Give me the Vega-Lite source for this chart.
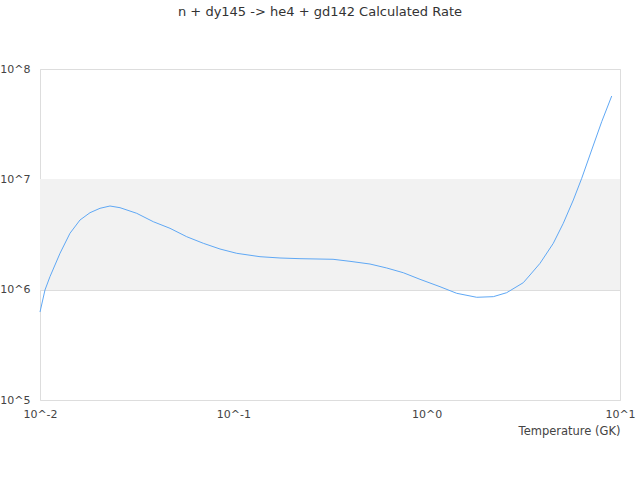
{
  "$schema": "https://vega.github.io/schema/vega-lite/v6.json",
  "width": 580,
  "height": 331,
  "autosize": {"type": "none"},
  "padding": {"left": 40, "top": 69, "right": 20, "bottom": 80},
  "background": "white",
  "config": {
    "font": "DejaVu Sans",
    "view": {"stroke": "#dddddd", "strokeWidth": 1}
  },
  "title": {
    "text": "n + dy145 -> he4 + gd142 Calculated Rate",
    "fontSize": 13,
    "fontWeight": "normal",
    "color": "#333333",
    "font": "DejaVu Sans",
    "anchor": "middle",
    "dx": -10,
    "offset": 44
  },
  "data": {
    "values": [
      {"T": 0.01, "rate": 627000},
      {"T": 0.01061, "rate": 993000},
      {"T": 0.01126, "rate": 1311000},
      {"T": 0.01269, "rate": 2136000},
      {"T": 0.01429, "rate": 3243000},
      {"T": 0.0161, "rate": 4279000},
      {"T": 0.01814, "rate": 4985000},
      {"T": 0.02043, "rate": 5463000},
      {"T": 0.02301, "rate": 5732000},
      {"T": 0.02593, "rate": 5533000},
      {"T": 0.03164, "rate": 4922000},
      {"T": 0.03855, "rate": 4130000},
      {"T": 0.04703, "rate": 3599000},
      {"T": 0.05739, "rate": 3020000},
      {"T": 0.06993, "rate": 2632000},
      {"T": 0.08531, "rate": 2336000},
      {"T": 0.1041, "rate": 2136000},
      {"T": 0.1374, "rate": 1990000},
      {"T": 0.1743, "rate": 1937000},
      {"T": 0.2212, "rate": 1909000},
      {"T": 0.3279, "rate": 1885000},
      {"T": 0.4013, "rate": 1807000},
      {"T": 0.5092, "rate": 1708000},
      {"T": 0.6214, "rate": 1572000},
      {"T": 0.7573, "rate": 1424000},
      {"T": 0.9237, "rate": 1241000},
      {"T": 1.172, "rate": 1064000},
      {"T": 1.43, "rate": 927000},
      {"T": 1.815, "rate": 853000},
      {"T": 2.212, "rate": 864000},
      {"T": 2.594, "rate": 939000},
      {"T": 3.161, "rate": 1157000},
      {"T": 3.423, "rate": 1358000},
      {"T": 3.858, "rate": 1733000},
      {"T": 4.519, "rate": 2632000},
      {"T": 5.089, "rate": 3995000},
      {"T": 5.736, "rate": 6497000},
      {"T": 6.339, "rate": 10220000},
      {"T": 7.137, "rate": 18450000},
      {"T": 8.043, "rate": 33300000},
      {"T": 9.06, "rate": 56900000}
    ]
  },
  "layer": [
    {
      "mark": {"type": "rect", "color": "#f2f2f2"},
      "encoding": {
        "y": {"datum": 1000000, "type": "quantitative", "scale": {"type": "log", "domain": [100000, 100000000], "nice": false}},
        "y2": {"datum": 10000000}
      }
    },
    {
      "mark": {"type": "line", "color": "#5fa8f5", "strokeWidth": 1},
      "encoding": {
        "x": {
          "field": "T",
          "type": "quantitative",
          "scale": {"type": "log", "domain": [0.01, 10], "nice": false},
          "axis": {
            "title": "Temperature (GK)",
            "titleFont": "DejaVu Sans",
            "titleFontSize": 11.5,
            "titleFontWeight": "normal",
            "titleColor": "#444444",
            "titleAnchor": "end",
            "titlePadding": 6,
            "values": [0.01, 0.1, 1, 10],
            "labelExpr": "'10^' + round(log(datum.value)/LN10)",
            "labelFont": "DejaVu Sans",
            "labelFontSize": 11,
            "labelColor": "#444444",
            "labelPadding": 8,
            "labelFlush": false,
            "domain": false,
            "ticks": false,
            "grid": false
          }
        },
        "y": {
          "field": "rate",
          "type": "quantitative",
          "scale": {"type": "log", "domain": [100000, 100000000], "nice": false},
          "axis": {
            "title": null,
            "values": [100000, 1000000, 10000000, 100000000],
            "labelExpr": "'10^' + round(log(datum.value)/LN10)",
            "labelFont": "DejaVu Sans",
            "labelFontSize": 11,
            "labelColor": "#444444",
            "labelPadding": 10,
            "labelAlign": "right",
            "labelBaseline": "middle",
            "labelFlush": false,
            "domain": false,
            "ticks": false,
            "grid": true,
            "gridColor": "#dddddd",
            "gridWidth": 1
          }
        }
      }
    }
  ]
}
